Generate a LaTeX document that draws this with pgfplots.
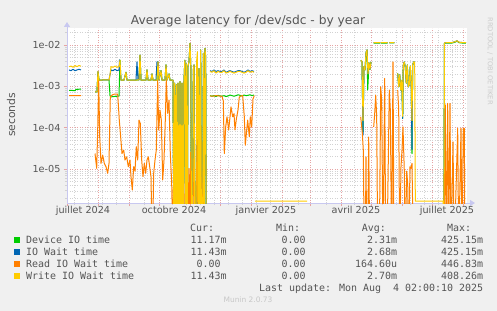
\documentclass[border=0pt]{standalone}
\usepackage{pgfplots}
\pgfplotsset{compat=1.18}
\usepackage{fontspec}
\setmainfont{DejaVu Sans}
\newfontfamily\mono{DejaVu Sans Mono}
\usetikzlibrary{arrows.meta}
\definecolor{bgcol}{HTML}{F0F0F0}
\definecolor{axiscol}{HTML}{C8C8F0}
\definecolor{mgrid}{HTML}{E6A4A4}
\definecolor{ngrid}{HTML}{D2D2D2}
\definecolor{cgreen}{HTML}{00CC00}
\definecolor{cblue}{HTML}{0066B3}
\definecolor{corange}{HTML}{FF8000}
\definecolor{cyellow}{HTML}{FFCC00}
\definecolor{txt}{HTML}{555555}
\begin{document}
\begin{tikzpicture}
\fill[bgcol] (0,0) rectangle (497bp,311bp);
\begin{axis}[
  at={(67bp,108bp)}, anchor=south west,
  scale only axis, width=400bp, height=175bp,
  xmin=0, xmax=400,
  ymode=log, ymin=1.53e-6, ymax=0.0258,
  axis background/.style={fill=white},
  axis x line*=bottom, axis y line*=left,
  x axis line style={draw=axiscol, line width=1bp, -{Triangle[length=5bp,width=6bp]}, shorten >=-8bp},
  y axis line style={draw=axiscol, line width=1bp, -{Triangle[length=5bp,width=6bp]}, shorten >=-6bp},
  xtick={0,31,62,92,123,153,184,215,243,274,304,335,365,396},
  xticklabels={},
  minor xtick={7,21,35,49,77,105,119,133,147,161,175,189,203,231,259,287,315,329,343,357,371,385},
  extra x ticks={16,107,199,289,380},
  extra x tick labels={juillet 2024,octobre 2024,janvier 2025,avril 2025,juillet 2025},
  extra x tick style={grid=none, major tick length=0pt},
  ytick={1e-5,1e-4,1e-3,1e-2},
  yticklabels={1e-05,1e-04,1e-03,1e-02},
  minor ytick={2e-6,3e-6,4e-6,5e-6,6e-6,7e-6,8e-6,9e-6,2e-5,3e-5,4e-5,5e-5,6e-5,7e-5,8e-5,9e-5,2e-4,3e-4,4e-4,5e-4,6e-4,7e-4,8e-4,9e-4,2e-3,3e-3,4e-3,5e-3,6e-3,7e-3,8e-3,9e-3,2e-2},
  xmajorgrids, xminorgrids, ymajorgrids, yminorgrids,
  major grid style={draw=mgrid, line width=0.75bp, dash pattern=on 1bp off 1.5bp},
  minor grid style={draw=ngrid, line width=0.75bp, dash pattern=on 1bp off 1.5bp},
  tick align=outside, major tick length=3bp, minor tick length=2bp,
  major tick style={draw=mgrid, line width=0.8bp},
  minor tick style={draw=ngrid, line width=0.8bp},
  tick label style={font=\fontsize{9.7}{11}\selectfont, text=txt},
  unbounded coords=jump,
  every axis plot/.append style={line width=1bp, line join=round},
]
% Device IO time
\addplot[cgreen] coordinates {
(2,8.0e-4) (5,8.0e-4) (8,7.9e-4) (9,8.5e-4) (14,8.6e-4) (20,nan)
(28,7.4e-4) (30,7.4e-4) (31,2.2e-3) (32,1.43e-3) (35,1.43e-3) (38,1.45e-3) (42,1.43e-3) (43,6.0e-4) (44,5.6e-4) (47,5.7e-4) (50,5.8e-4) (52,5.8e-4) (53,4.3e-3) (54,1.43e-3) (57,1.43e-3) (59,2.2e-3) (60,1.43e-3) (64,1.43e-3) (70,1.43e-3) (72,1.45e-3) (73,5.7e-3) (74,1.43e-3) (79,1.43e-3) (80,2.5e-3) (81,1.43e-3) (84,1.43e-3) (85,2.0e-3) (86,1.43e-3) (90,1.43e-3) (91,3.9e-3) (92,1.43e-3) (94,2.4e-3) (95,1.43e-3) (98,1.43e-3) (99,3.3e-3) (100,1.43e-3) (102,2.0e-3) (103,1.43e-3) (106,1.43e-3)
(107,1e-7) (107.7,1.2e-3) (108.5,1e-7) (109.3,1.1e-3) (110.2,1e-7) (111,1.2e-3) (112,1e-7) (113,1.3e-3) (114,1e-7) (115,1.2e-3) (116,1e-7) (117,1.3e-3) (117.8,4.3e-3) (118.5,1e-7) (119.3,3.5e-3) (120.2,1e-7) (121,3.0e-3) (122,4.0e-3) (123,1.1e-2) (123.8,3.0e-3) (124.6,1e-7) (125.5,1e-7) (126.3,2.5e-3) (127,3.3e-3) (127.8,1e-7) (128.8,1e-7) (129.6,4.0e-5) (130.4,3.0e-5) (131.2,1e-7) (132,2.7e-3) (132.8,1e-7) (133.7,7.6e-3) (134.5,1e-7) (135.5,1e-7) (136.4,6.3e-3) (137.2,1e-7) (138,8.3e-3) (138.7,5e-3) (139.3,1e-7) (141,nan)
(143,6.0e-4) (145,5.8e-4) (147,6.0e-4) (149,5.7e-4) (151,6.1e-4) (153,5.9e-4) (155,5.8e-4) (157,6.0e-4) (159,5.7e-4) (161,5.9e-4) (163,6.2e-4) (165,6.0e-4) (167,5.8e-4) (169,6.0e-4) (171,6.3e-4) (173,6.1e-4) (175,5.9e-4) (177,6.2e-4) (179,6.0e-4) (181,6.1e-4) (183,6.3e-4) (185,6.0e-4) (187,6.2e-4) (188,nan)
(294,4.3e-3) (295,3.9e-3) (296,8.0e-5) (297,3.0e-3) (298,2.5e-3) (299,6.4e-3) (300,7.6e-3) (300.7,8.2e-4) (301.5,2.0e-3) (302,3.7e-3) (303,2.6e-3) (304,3.9e-3) (305,nan)
(306.7,1.12e-2) (313.3,1.12e-2) (313.8,nan) (314.2,1.12e-2) (320.7,1.12e-2) (321.5,nan) (322.3,1.12e-2) (327.3,1.13e-2) (328,nan)
(330.7,2.07e-3) (331.7,9.8e-4) (332.7,1.9e-3) (333.7,8.2e-4) (334.7,1.4e-3) (335.7,1.7e-4) (336.3,3.3e-3) (337.3,3.9e-3) (338.3,2.9e-3) (339.3,1.2e-3) (340.3,3.3e-3) (341.3,9.8e-4) (342.3,1.1e-3) (343.3,3.1e-3) (344.3,9.8e-4) (345,2.4e-5) (345.7,3.3e-3) (346.7,3.9e-3) (347.7,3.9e-3) (348.3,nan)
(376.7,1e-7) (377.5,1.10e-2) (380,1.117e-2) (385,1.12e-2) (388,1.17e-2) (390,1.24e-2) (392,1.14e-2) (395,1.12e-2) (399,1.117e-2)
};
% IO Wait time
\addplot[cblue] coordinates {
(2,2.5e-3) (4,2.4e-3) (6,2.6e-3) (8,2.4e-3) (10,2.5e-3) (12,2.6e-3) (14,2.5e-3) (20,nan)
(28,7.4e-4) (30,7.4e-4) (31,2.3e-3) (32,1.43e-3) (35,1.43e-3) (38,1.45e-3) (42,1.43e-3) (43,1.9e-3) (44,2.5e-3) (46,2.4e-3) (48,2.6e-3) (50,2.4e-3) (52,2.5e-3) (52.5,4.4e-3) (54,1.43e-3) (57,1.43e-3) (59,2.2e-3) (60,1.43e-3) (64,1.43e-3) (69,1.43e-3) (70,3.9e-3) (71,1.43e-3) (72,1.45e-3) (73,5.7e-3) (74,1.43e-3) (79,1.43e-3) (80,2.5e-3) (81,1.43e-3) (84,1.43e-3) (85,2.0e-3) (86,1.43e-3) (89,1.43e-3) (90,3.9e-3) (91,3.9e-3) (92,1.43e-3) (94,2.4e-3) (95,1.43e-3) (98,1.43e-3) (99,3.3e-3) (100,1.43e-3) (102,2.0e-3) (103,1.43e-3) (106,1.43e-3)
(107,1e-7) (107.7,1.2e-3) (108.5,1e-7) (109.3,1.1e-3) (110.2,1e-7) (111,1.2e-3) (112,1e-7) (113,1.3e-3) (114,1e-7) (115,1.2e-3) (116,1e-7) (117,1.3e-3) (117.8,4.3e-3) (118.5,1e-7) (119.3,3.5e-3) (120.2,1e-7) (121,3.0e-3) (122,4.0e-3) (123,1.1e-2) (123.8,3.0e-3) (124.6,1e-7) (125.5,1e-7) (126.3,2.5e-3) (127,3.3e-3) (127.8,1e-7) (128.8,1e-7) (129.6,1.2e-4) (130.4,1.0e-4) (131.2,1e-7) (132,2.7e-3) (132.8,1e-7) (133.7,7.6e-3) (134.5,1e-7) (135.5,1e-7) (136.4,6.3e-3) (137.2,1e-7) (138,8.3e-3) (138.7,5e-3) (139.3,1e-7) (141,nan)
(143,2.4e-3) (145,2.3e-3) (147,2.5e-3) (149,2.3e-3) (151,2.4e-3) (153,2.3e-3) (155,2.3e-3) (157,2.5e-3) (159,2.2e-3) (161,2.3e-3) (163,2.4e-3) (165,2.3e-3) (167,2.2e-3) (169,2.3e-3) (171,2.4e-3) (173,2.4e-3) (175,2.3e-3) (177,2.2e-3) (179,2.3e-3) (181,2.5e-3) (183,2.3e-3) (185,2.4e-3) (187,2.3e-3) (188,nan)
(294,4.3e-3) (295,3.9e-3) (296,6.7e-5) (297,3.0e-3) (298,2.5e-3) (299,6.4e-3) (300,7.6e-3) (301,2.0e-3) (302,3.7e-3) (303,2.6e-3) (304,3.9e-3) (305,nan)
(306.7,1.14e-2) (313.3,1.14e-2) (313.8,nan) (314.2,1.14e-2) (320.7,1.14e-2) (321.5,nan) (322.3,1.14e-2) (327.3,1.15e-2) (328,nan)
(330.7,2.07e-3) (331.7,9.8e-4) (332.7,1.9e-3) (333.7,8.2e-4) (334.7,1.4e-3) (335.7,1.7e-4) (336.3,3.3e-3) (337.3,3.9e-3) (338.3,2.9e-3) (339.3,1.2e-3) (340.3,3.3e-3) (341.3,9.8e-4) (342.3,1.1e-3) (343.3,3.1e-3) (344.3,9.8e-4) (345,3.0e-5) (345.7,3.3e-3) (346.7,3.9e-3) (347.7,3.9e-3) (348.3,nan)
(376.7,1e-7) (377.5,1.12e-2) (380,1.143e-2) (385,1.15e-2) (388,1.2e-2) (390,1.27e-2) (392,1.17e-2) (395,1.15e-2) (399,1.143e-2)
};
% Read IO Wait time
\addplot[corange] coordinates {
(2,6.0e-4) (8,6.0e-4) (14,6.0e-4) (20,nan)
(28,2.4e-5) (29.7,1.05e-5) (30.7,8.9e-5) (31.7,1.43e-3) (32.7,6.1e-5) (34,1.39e-5) (35.7,2.2e-5) (37.3,1.39e-5) (39,1.15e-5) (40.7,8e-6) (42,1.39e-5) (43.3,5.6e-4) (45,6.2e-4) (47.3,6.5e-4) (50.7,6.5e-4) (52.3,1.54e-4) (55,2.4e-5) (56.7,2.9e-5) (58,1.67e-5) (59.7,2.0e-5) (61.3,1.15e-5) (63,1.67e-5) (64,6.6e-6) (65.3,3.15e-6) (66.7,1.15e-5) (68,9e-6) (69.3,3.5e-5) (70.7,1.67e-5) (72,1.54e-4) (73.3,1.28e-4) (74.7,1.67e-5) (76,6.6e-6) (77.3,1.39e-5) (78.7,8e-6) (80,1.67e-5) (81.3,2.0e-5) (82.7,1.15e-5) (84,6.6e-6) (85.3,1e-7) (86.7,8e-6) (88,1.67e-5) (89.3,2.91e-5) (90.7,1.43e-3) (91.7,8.85e-5) (93,2.69e-4) (94.3,1.54e-4) (95.7,5.5e-6) (97,1.67e-5) (98.3,1.54e-4) (99.3,1.43e-3) (100.7,2.24e-4) (102,4.7e-4) (103.3,2.42e-5) (104.7,4.56e-6) (106,1e-7)
(107,1.17e-4) (107.7,1e-7) (109,2e-5) (109.8,1e-7) (111,5e-5) (111.8,1e-7) (113.5,1.5e-5) (114.3,1e-7) (116,3e-5) (116.8,1e-7) (118.5,1e-5) (119.7,9.9e-5) (120.5,1e-7) (122,1.05e-5) (122.8,1e-7) (123.7,2.6e-5) (124.5,1e-7) (127,1.8e-5) (127.8,1e-7) (130.4,7.9e-5) (131,1e-7) (132.5,7.9e-5) (133.7,7.9e-5) (134.5,1e-7) (136.4,1.3e-5) (137.2,1e-7) (139,1e-7) (141,nan)
(143,5.9e-4) (146,5.8e-4) (149,6.0e-4) (152,5.9e-4) (155,5.8e-4) (156.3,4.5e-4) (157.3,2.4e-5) (158.7,1.06e-4) (160,1.85e-4) (161.7,8.9e-5) (164,3.2e-4) (165.7,1.85e-4) (167,2.2e-4) (168,8.9e-5) (169.3,1.6e-4) (171,2.7e-4) (172.3,5.5e-4) (174,5.9e-4) (175.7,6.0e-4) (177.3,1.85e-4) (178.3,3.8e-5) (179.7,8.9e-5) (180.7,1.54e-4) (182.3,6.1e-5) (183.3,1.85e-4) (184.7,1.06e-4) (186,5e-4) (187.3,6e-4) (188,nan)
(293.7,1.85e-4) (295.3,7.5e-5) (296.3,2.9e-5) (297.3,1e-7) (298.3,1e-7) (299,2.0e-5) (299.7,1e-7) (300.7,1e-7) (301.7,6e-5) (302.7,1e-7) (304,1e-7) (305,nan)
(306.7,1.06e-4) (307.7,2.2e-4) (308.7,6.2e-4) (309.7,1.85e-4) (310.7,1e-7) (312.3,1e-7) (313.7,9.8e-4) (314.7,4.5e-4) (316,1e-7) (317.7,1.57e-3) (318.7,1e-7) (320,1e-7) (322.3,8.2e-4) (323.3,2.8e-4) (324.7,1e-7) (326,3.9e-3) (327,1e-7) (328,nan)
(330.7,8.2e-4) (331.7,2.8e-4) (332.7,1e-7) (334,1.15e-5) (335,2.9e-5) (336,1.06e-4) (337.3,9e-6) (338.3,1e-7) (339.7,9e-6) (340.7,4.6e-6) (341.7,1e-7) (343,1.15e-5) (344,1.05e-5) (345,1.39e-5) (346.3,1e-7) (347.3,1e-7) (348.3,nan)
(377,1e-7) (378.3,3.6e-4) (379.3,1e-7) (380.7,3.9e-4) (381.7,1e-7) (383,3.9e-4) (384,1e-7) (386,4.6e-5) (387.3,1e-7) (390.7,9.7e-5) (391.7,1e-7) (394,9.7e-5) (395,1e-7) (396.3,9.7e-5) (397.3,9.7e-5) (398,1e-7)
};
% Write IO Wait time
\addplot[cyellow] coordinates {
(2,3.0e-3) (4,3.1e-3) (6,2.9e-3) (8,3.2e-3) (10,3.0e-3) (12,3.2e-3) (14,3.1e-3) (20,nan)
(28,7.4e-4) (30,7.4e-4) (31,2.3e-3) (32,1.43e-3) (35,1.43e-3) (38,1.45e-3) (42,1.43e-3) (43,1.9e-3) (44,3.0e-3) (46,2.9e-3) (48,3.1e-3) (50,2.9e-3) (52,3.0e-3) (53,4.3e-3) (54,1.43e-3) (57,1.43e-3) (59,2.2e-3) (60,1.43e-3) (64,1.43e-3) (70,1.43e-3) (72,1.45e-3) (73,5.7e-3) (74,1.43e-3) (79,1.43e-3) (80,2.5e-3) (81,1.43e-3) (84,1.43e-3) (85,2.0e-3) (86,1.43e-3) (90,1.43e-3) (91,3.9e-3) (92,1.43e-3) (94,2.4e-3) (95,1.43e-3) (98,1.43e-3) (99,3.3e-3) (100,1.43e-3) (102,2.0e-3) (103,1.43e-3) (106,1.43e-3)
(107,1e-7) (107.7,1.2e-3) (108.5,1e-7) (109.3,1.1e-3) (110.2,1e-7) (111,1.2e-3) (112,1e-7) (113,1.3e-3) (114,1e-7) (115,1.2e-3) (116,1e-7) (117,1.3e-3) (117.8,4.3e-3) (118.5,1e-7) (119.3,3.5e-3) (120.2,1e-7) (121,3.0e-3) (122,4.0e-3) (123,1.1e-2) (123.8,3.0e-3) (124.6,1e-7) (125.5,1e-7) (126.3,2.5e-3) (127,3.3e-3) (127.8,1e-7) (128.8,1e-7) (129.6,4.0e-3) (130.4,6.9e-3) (131.2,1e-7) (132,2.7e-3) (132.8,1e-7) (133.7,7.6e-3) (134.5,1e-7) (135.5,1e-7) (136.4,6.3e-3) (137.2,1e-7) (138,8.3e-3) (138.7,5e-3) (139.3,1e-7) (141,nan)
(143,2.3e-3) (145,2.2e-3) (147,2.4e-3) (149,2.1e-3) (151,2.3e-3) (153,2.2e-3) (155,2.2e-3) (157,2.4e-3) (159,2.1e-3) (161,2.2e-3) (163,2.3e-3) (165,2.2e-3) (167,2.1e-3) (169,2.2e-3) (171,2.3e-3) (173,2.3e-3) (175,2.2e-3) (177,2.1e-3) (179,2.2e-3) (181,2.4e-3) (183,2.2e-3) (185,2.3e-3) (187,2.2e-3) (187.6,nan)
(188,1.7e-6) (240,1.7e-6) (241,nan)
(294,4.3e-3) (295,3.9e-3) (296,1.5e-4) (297,3.0e-3) (298,2.5e-3) (299,6.4e-3) (300,7.6e-3) (301,2.0e-3) (302,3.7e-3) (303,2.6e-3) (304,3.9e-3) (305,nan)
(306.7,1.14e-2) (313.3,1.14e-2) (313.8,nan) (314.2,1.14e-2) (320.7,1.14e-2) (321.5,nan) (322.3,1.14e-2) (327.3,1.15e-2) (328,nan)
(330.7,2.07e-3) (331.7,9.8e-4) (332.7,1.9e-3) (333.7,8.2e-4) (334.7,1.4e-3) (335.7,1.9e-4) (336.3,3.3e-3) (337.3,3.9e-3) (338.3,2.9e-3) (339.3,1.2e-3) (340.3,3.3e-3) (341.3,9.8e-4) (342.3,1.1e-3) (343.3,3.1e-3) (344.3,9.8e-4) (345,1.5e-4) (345.7,3.3e-3) (346.7,3.9e-3) (347.7,3.9e-3)
(348.3,1.7e-6) (376,1.7e-6) (376.7,1e-7) (377.5,1.12e-2) (380,1.143e-2) (385,1.15e-2) (388,1.2e-2) (390,1.27e-2) (392,1.17e-2) (395,1.15e-2) (399,1.143e-2)
};
\end{axis}
% title and labels
\node[anchor=base, font=\fontsize{12.3}{14}\selectfont, text=txt] at (248bp,286.5bp) {Average latency for /dev/sdc - by year};
\node[rotate=90, font=\fontsize{10.8}{12}\selectfont, text=txt] at (11bp,196bp) {seconds};
\node[rotate=-90, anchor=west, font=\fontsize{6.8}{8}\selectfont, text=black!20] at (490bp,297bp) {RRDTOOL / TOBI OETIKER};
% legend
\begin{scope}[every node/.style={font=\mono\fontsize{10}{12}\selectfont, text=txt, inner sep=0pt}]
\node[anchor=base west] at (190bp,79.7bp) {Cur:};
\node[anchor=base west] at (276bp,79.7bp) {Min:};
\node[anchor=base west] at (361.7bp,79.7bp) {Avg:};
\node[anchor=base west] at (447bp,79.7bp) {Max:};
\fill[cgreen] (14bp,68bp) rectangle (20bp,74bp);
\fill[cblue] (14bp,56bp) rectangle (20bp,62bp);
\fill[corange] (14bp,44bp) rectangle (20bp,50bp);
\fill[cyellow] (14bp,32bp) rectangle (20bp,38bp);
\node[anchor=base west] at (26bp,67.4bp) {Device IO time};
\node[anchor=base west] at (26bp,55.4bp) {IO Wait time};
\node[anchor=base west] at (26bp,43.4bp) {Read IO Wait time};
\node[anchor=base west] at (26bp,31.4bp) {Write IO Wait time};
\node[anchor=base east] at (226.7bp,67.4bp) {11.17m};
\node[anchor=base east] at (311.7bp,67.4bp) {0.00\phantom{m}};
\node[anchor=base east] at (397.3bp,67.4bp) {2.31m};
\node[anchor=base east] at (483.3bp,67.4bp) {425.15m};
\node[anchor=base east] at (226.7bp,55.4bp) {11.43m};
\node[anchor=base east] at (311.7bp,55.4bp) {0.00\phantom{m}};
\node[anchor=base east] at (397.3bp,55.4bp) {2.68m};
\node[anchor=base east] at (483.3bp,55.4bp) {425.15m};
\node[anchor=base east] at (226.7bp,43.4bp) {0.00\phantom{m}};
\node[anchor=base east] at (311.7bp,43.4bp) {0.00\phantom{m}};
\node[anchor=base east] at (397.3bp,43.4bp) {164.60u};
\node[anchor=base east] at (483.3bp,43.4bp) {446.83m};
\node[anchor=base east] at (226.7bp,31.4bp) {11.43m};
\node[anchor=base east] at (311.7bp,31.4bp) {0.00\phantom{m}};
\node[anchor=base east] at (397.3bp,31.4bp) {2.70m};
\node[anchor=base east] at (483.3bp,31.4bp) {408.26m};
\node[anchor=base east] at (483.3bp,19.4bp) {Last update: Mon Aug\ \ 4 02:00:10 2025};
\end{scope}
\node[font=\fontsize{7.5}{9}\selectfont, text=black!22] at (248bp,11.7bp) {Munin 2.0.73};
\pgfresetboundingbox
\useasboundingbox (0,0) rectangle (497bp,311bp);
\end{tikzpicture}
\end{document}
